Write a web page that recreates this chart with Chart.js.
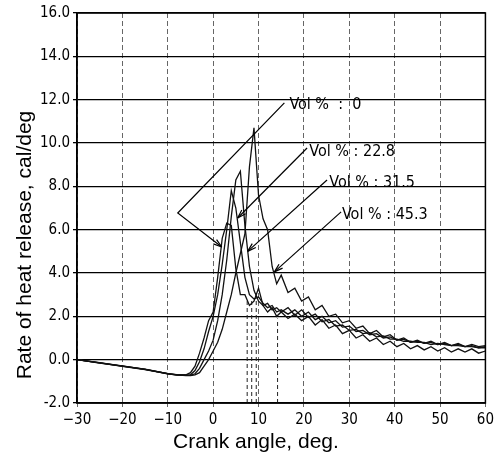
<!DOCTYPE html>
<html>
<head>
<meta charset="utf-8">
<script src="https://cdn.jsdelivr.net/npm/chart.js@4.4.0/dist/chart.umd.min.js"></script>
<style>
  html, body { margin: 0; padding: 0; background: #fff; }
</style>
</head>
<body>
<canvas id="hrr" width="498" height="458"></canvas>
<script>
// crank angle grid (deg), shared by all four curves
const crankAngle = [-30, -25, -20, -15, -10, -8, -6,
  -5, -4, -3, -2, -1, 0, 1, 2, 3, 4, 5, 6, 7, 8, 9, 10, 11, 12, 13, 14, 15,
  16.5, 18, 19.5, 21, 22.5, 24, 25.5, 27, 28.5, 30, 31.5, 33, 34.5, 36, 37.5, 39,
  40.5, 42, 43.5, 45, 46.5, 48, 49.5, 51, 52.5, 54, 55.5, 57, 58.5, 60];

// rate of heat release (cal/deg)
const vol0 = [0.0, -0.16, -0.3, -0.45, -0.64, -0.7, -0.7,
  -0.6, -0.3, 0.3, 1.0, 1.8, 2.2, 3.8, 5.6, 6.3, 6.2, 4.2, 3.0, 3.0, 2.5, 2.7, 3.3, 2.5, 2.2, 2.4, 2.0, 2.2,
  1.9, 2.1, 1.8, 2.0, 1.6, 1.85, 1.45, 1.6, 1.2, 1.35, 1.0, 1.15, 0.85, 1.0, 0.7, 0.85,
  0.6, 0.75, 0.5, 0.65, 0.45, 0.6, 0.4, 0.55, 0.35, 0.5, 0.35, 0.5, 0.3, 0.4];
const vol228 = [0.0, -0.15, -0.31, -0.46, -0.66, -0.71, -0.72,
  -0.7, -0.5, -0.1, 0.5, 1.3, 2.0, 3.0, 4.4, 6.0, 7.8, 7.0, 5.4, 3.8, 3.0, 2.8, 2.9, 2.6, 2.4, 2.5, 2.2, 2.3,
  2.1, 2.3, 2.0, 2.2, 1.85, 2.0, 1.7, 1.8, 1.5, 1.55, 1.3, 1.35, 1.15, 1.2, 1.0, 1.05,
  0.9, 0.95, 0.8, 0.85, 0.75, 0.8, 0.7, 0.75, 0.65, 0.7, 0.6, 0.65, 0.55, 0.55];
const vol315 = [0.0, -0.14, -0.3, -0.44, -0.65, -0.7, -0.73,
  -0.72, -0.65, -0.4, 0.0, 0.4, 0.9, 1.8, 3.0, 4.6, 6.6, 8.3, 8.7, 6.2, 4.3, 3.2, 2.7, 2.5, 2.6, 2.3, 2.4, 2.2,
  2.4, 2.05, 2.3, 1.95, 2.1, 1.75, 1.85, 1.55, 1.6, 1.35, 1.4, 1.2, 1.25, 1.05, 1.1, 0.95,
  0.95, 0.85, 0.85, 0.8, 0.8, 0.7, 0.75, 0.7, 0.65, 0.65, 0.6, 0.6, 0.55, 0.6];
const vol453 = [0.0, -0.15, -0.29, -0.45, -0.64, -0.69, -0.72,
  -0.73, -0.7, -0.6, -0.3, 0.0, 0.4, 0.8, 1.4, 2.2, 3.0, 4.0, 4.9, 5.8, 8.9, 10.7, 7.6, 6.5, 6.0, 4.3, 3.5, 3.9,
  3.1, 3.3, 2.7, 2.9, 2.3, 2.5, 2.0, 2.1, 1.7, 1.8, 1.45, 1.55, 1.2, 1.35, 1.05, 1.15,
  0.9, 1.0, 0.8, 0.9, 0.75, 0.85, 0.7, 0.8, 0.65, 0.75, 0.6, 0.7, 0.6, 0.65];

// dashed end-of-combustion markers
const endAngle = [7.5, 8.5, 9.5, 14.2];
const endTop = [2.8, 2.8, 2.8, 1.9];

// annotation labels and leader lines (data units)
const labelText = ["Vol %  :  0", "Vol % : 22.8", "Vol % : 31.5", "Vol % : 45.3"];
const labelX = [16.8, 21.2, 25.6, 28.4];
const labelY = [11.75, 9.58, 8.15, 6.68];
const leaderPaths = [
  [[15.7, 11.85], [-7.8, 6.77], [1.9, 5.2]],
  [[20.7, 9.77], [5.4, 6.54]],
  [[25.1, 8.29], [7.6, 5.0]],
  [[28.2, 6.82], [13.5, 4.05]]
];

const xTitle = "Crank angle, deg.";
const yTitle = "Rate of heat release, cal/deg";

const narrow = "'Liberation Sans Narrow', 'DejaVu Sans Condensed', 'Liberation Sans', sans-serif";
const tickFont = { family: narrow, size: 15 };

function toPoints(xs, ys) {
  return xs.map((x, i) => ({ x: x, y: ys[i] }));
}

const curves = [vol0, vol228, vol315, vol453].map((ys) => ({
  data: toPoints(crankAngle, ys),
  borderColor: "#111",
  borderWidth: 1.3,
  pointRadius: 0,
  tension: 0,
  fill: false
}));

const markers = endAngle.map((a, i) => ({
  data: [{ x: a, y: -2 }, { x: a, y: endTop[i] }],
  borderColor: "#222",
  borderWidth: 1,
  borderDash: [4, 3],
  pointRadius: 0,
  fill: false
}));

const overlay = {
  id: "overlay",
  afterDatasetsDraw(chart) {
    const { ctx, chartArea: a, scales } = chart;
    const sx = scales.x, sy = scales.y;
    ctx.save();
    // plot frame
    ctx.strokeStyle = "#000";
    ctx.lineWidth = 1.5;
    ctx.strokeRect(a.left, a.top, a.right - a.left, a.bottom - a.top);

    // leader lines with arrow heads
    ctx.lineWidth = 1.2;
    leaderPaths.forEach((path) => {
      const pts = path.map(([px, py]) => [sx.getPixelForValue(px), sy.getPixelForValue(py)]);
      ctx.beginPath();
      pts.forEach(([X, Y], i) => (i ? ctx.lineTo(X, Y) : ctx.moveTo(X, Y)));
      ctx.stroke();
      const [X0, Y0] = pts[pts.length - 2];
      const [X1, Y1] = pts[pts.length - 1];
      const ang = Math.atan2(Y1 - Y0, X1 - X0);
      ctx.beginPath();
      ctx.moveTo(X1, Y1);
      ctx.lineTo(X1 - 9 * Math.cos(ang - 0.3), Y1 - 9 * Math.sin(ang - 0.3));
      ctx.moveTo(X1, Y1);
      ctx.lineTo(X1 - 9 * Math.cos(ang + 0.3), Y1 - 9 * Math.sin(ang + 0.3));
      ctx.stroke();
    });

    // labels
    ctx.fillStyle = "#000";
    ctx.font = "16px " + narrow;
    ctx.textAlign = "left";
    ctx.textBaseline = "middle";
    labelText.forEach((t, i) => {
      ctx.fillText(t, sx.getPixelForValue(labelX[i]), sy.getPixelForValue(labelY[i]));
    });

    // axis titles
    ctx.font = "21px 'Liberation Sans', Arial, sans-serif";
    ctx.textAlign = "center";
    ctx.textBaseline = "alphabetic";
    ctx.fillText(xTitle, 256, 448);
    ctx.translate(31, 245);
    ctx.rotate(-Math.PI / 2);
    ctx.fillText(yTitle, 0, 0);
    ctx.restore();
  }
};

new Chart(document.getElementById("hrr").getContext("2d"), {
  type: "line",
  data: { datasets: curves.concat(markers) },
  options: {
    responsive: false,
    animation: false,
    layout: { padding: { top: 13, right: 11, left: 0, bottom: 0 } },
    plugins: { legend: { display: false }, tooltip: { enabled: false } },
    scales: {
      x: {
        type: "linear",
        min: -30,
        max: 60,
        ticks: {
          stepSize: 10,
          color: "#000",
          font: tickFont,
          padding: 4,
          maxRotation: 0,
          callback: (v) => (v < 0 ? "\u2212" + Math.abs(v) : String(v))
        },
        grid: { color: "#666", lineWidth: 1, tickLength: 4 },
        border: { color: "#000", width: 1.5, dash: [5, 3] },
        afterFit: (s) => { s.height = 55; }
      },
      y: {
        min: -2,
        max: 16,
        ticks: {
          stepSize: 2,
          color: "#000",
          font: tickFont,
          padding: 3,
          callback: (v) => v.toFixed(1)
        },
        grid: { color: "#000", lineWidth: 1.3, tickLength: 4 },
        border: { color: "#000", width: 1.5 },
        afterFit: (s) => { s.width = 77; }
      }
    }
  },
  plugins: [overlay]
});
</script>
</body>
</html>
